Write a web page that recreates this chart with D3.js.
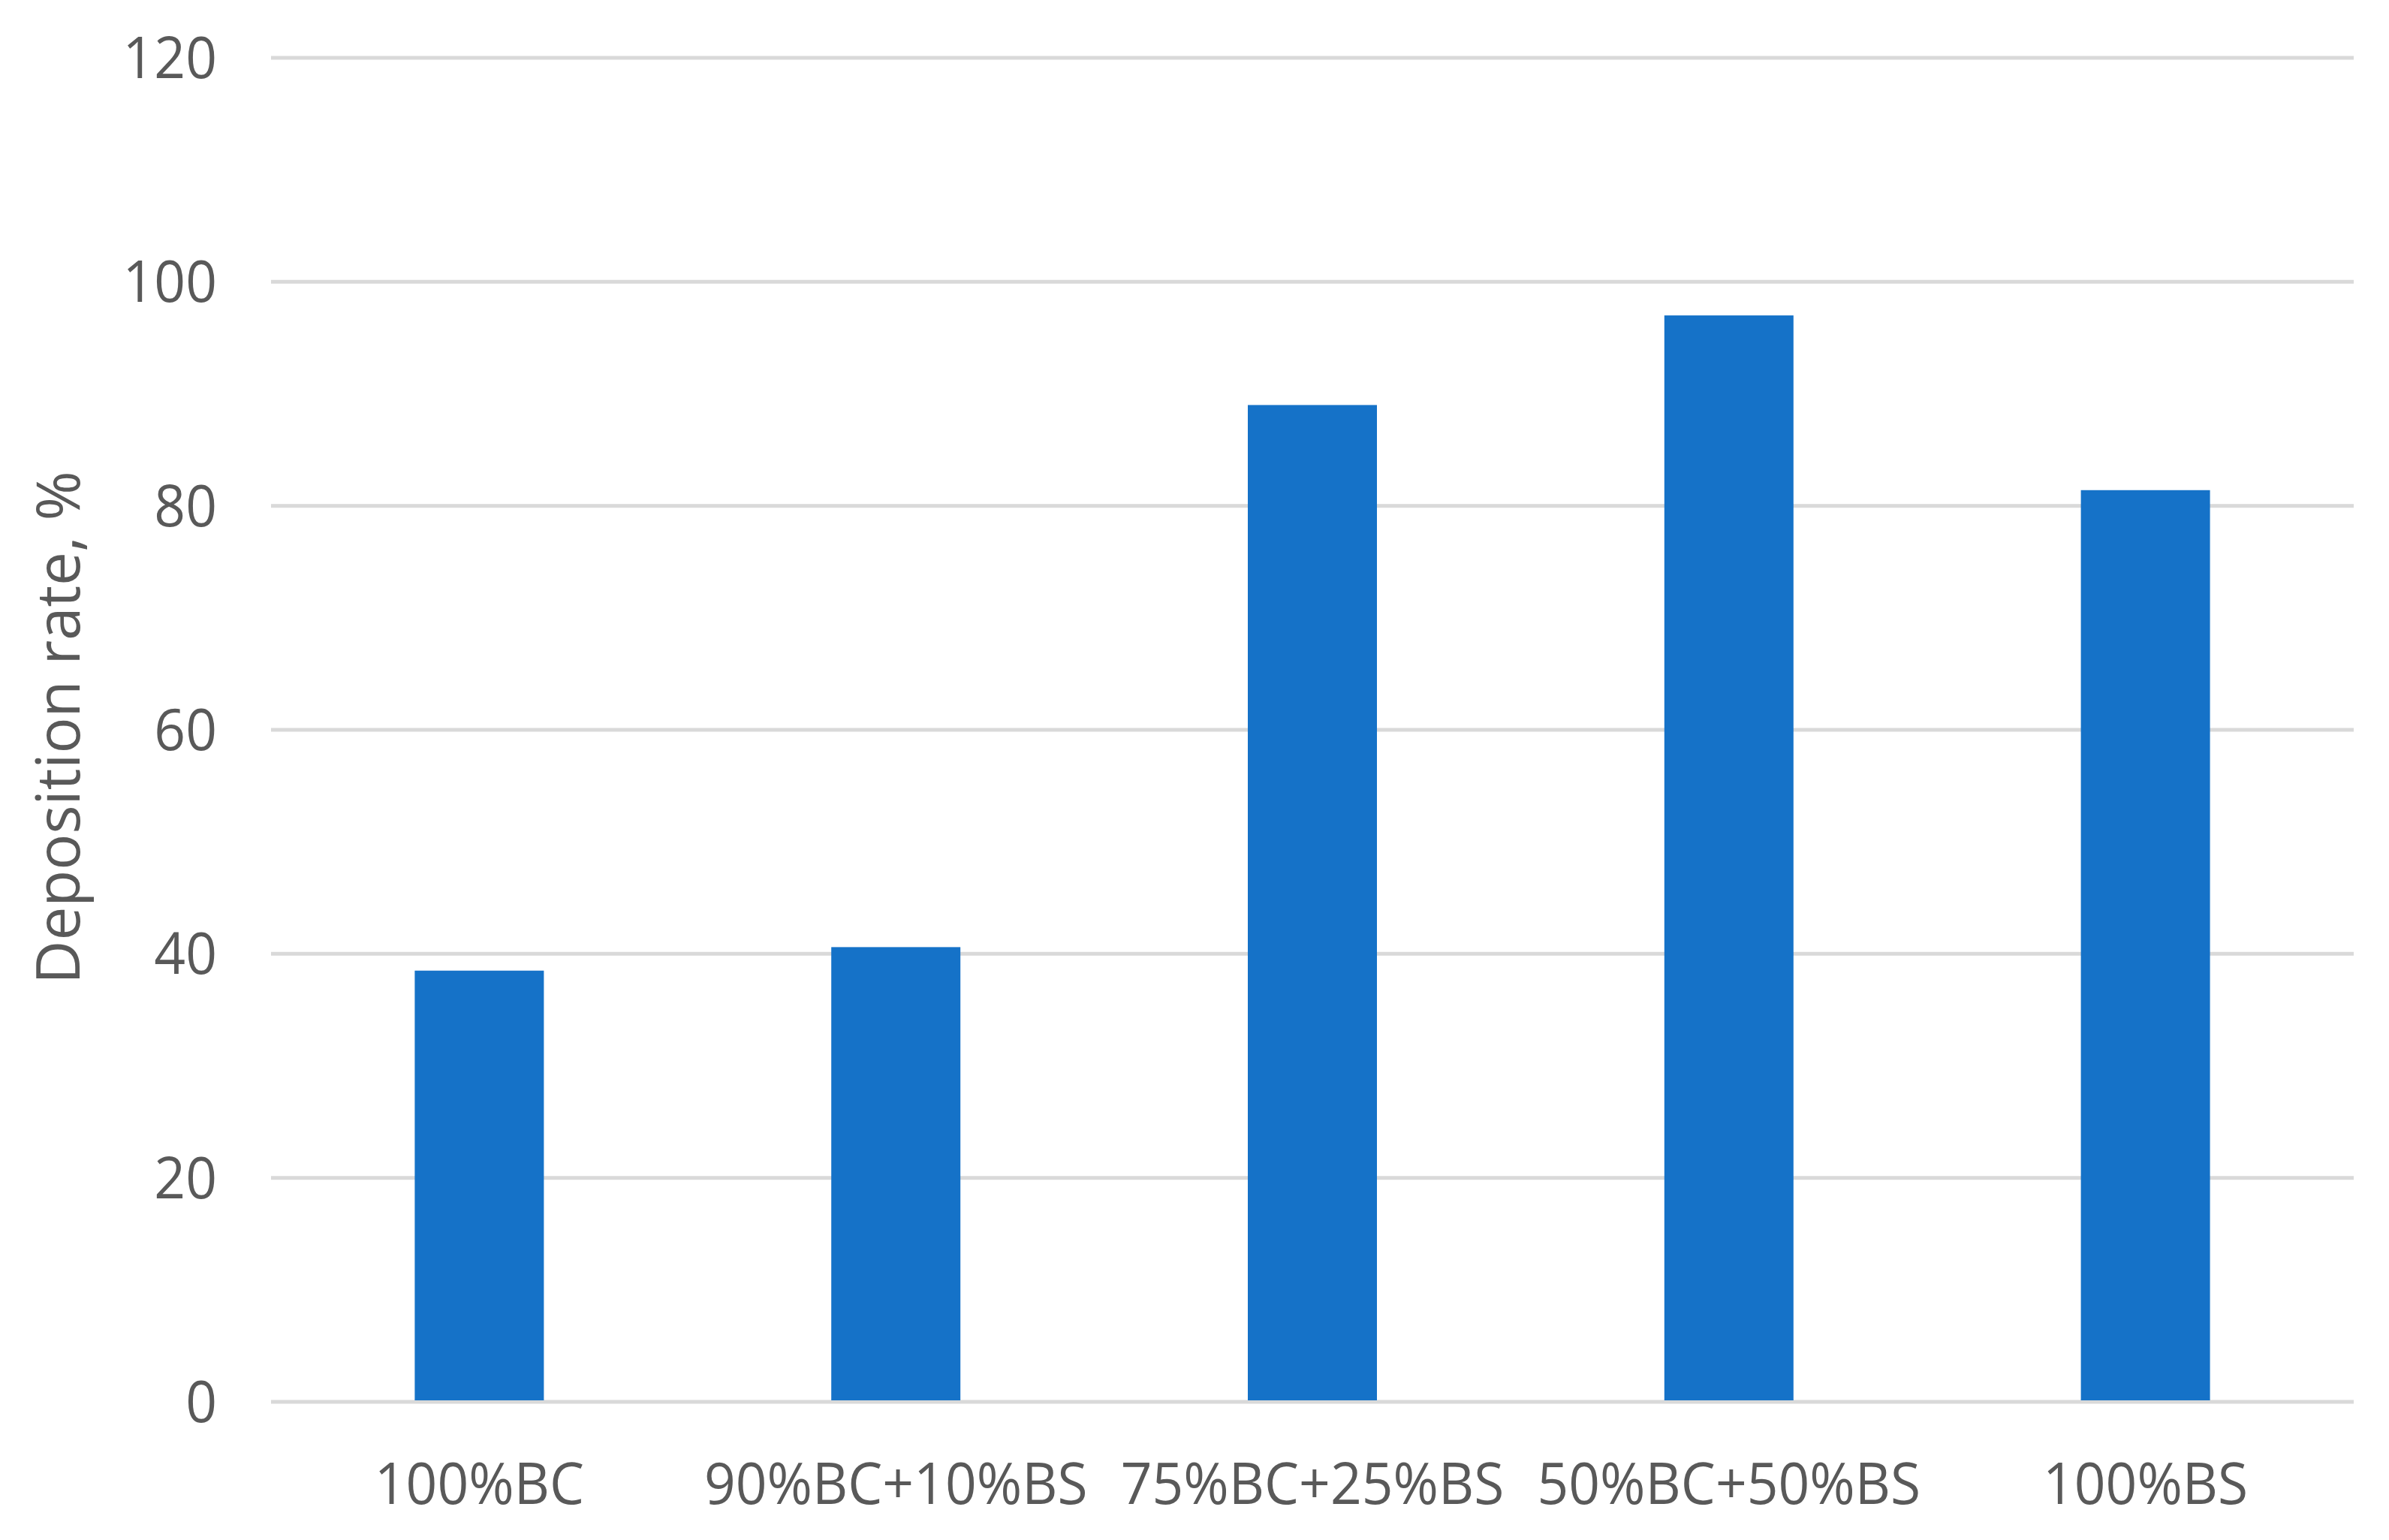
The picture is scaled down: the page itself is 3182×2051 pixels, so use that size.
<!DOCTYPE html>
<html>
<head>
<meta charset="utf-8">
<script src="https://cdn.jsdelivr.net/npm/d3@7"></script>
<style>
  html, body { margin: 0; padding: 0; background: #fff; }
  svg { display: block; }
  text { font-family: "Open Sans", "Noto Sans", sans-serif; fill: #595959; }
</style>
</head>
<body>
<svg id="chart" width="3182" height="2051"></svg>
<script>
const categories = ["100%BC", "90%BC+10%BS", "75%BC+25%BS", "50%BC+50%BS", "100%BS"];
const depositionRate = [38.5, 40.6, 89.0, 97.0, 81.4];
const yTicks = [0, 20, 40, 60, 80, 100, 120];
const yTitle = "Deposition rate, %";

const svg = d3.select("#chart");
const W = 3182, H = 2051;
const margin = { left: 361, right: W - 3135, top: 77, bottom: H - 1867 };

const x = d3.scaleBand()
  .domain(categories)
  .range([margin.left, W - margin.right])
  .paddingInner(0.69)
  .paddingOuter(0.345);

const y = d3.scaleLinear()
  .domain([0, 120])
  .range([H - margin.bottom, margin.top]);

const sx = 0.95; // horizontal condensation of text
const fontSize = 77;

// gridlines
svg.append("g")
  .selectAll("line")
  .data(yTicks)
  .join("line")
  .attr("x1", margin.left)
  .attr("x2", W - margin.right)
  .attr("y1", d => y(d))
  .attr("y2", d => y(d))
  .attr("stroke", "#D9D9D9")
  .attr("stroke-width", 5);

// bars
svg.append("g")
  .selectAll("rect")
  .data(categories.map((c, i) => ({ c, v: depositionRate[i] })))
  .join("rect")
  .attr("x", d => x(d.c))
  .attr("width", x.bandwidth())
  .attr("y", d => y(d.v))
  .attr("height", d => y(0) - y(d.v) - 2)
  .attr("fill", "#1572C8");

// y axis labels
const yAxis = d3.axisLeft(y).tickValues(yTicks).tickSize(0).tickPadding(0);
const gy = svg.append("g").attr("transform", `translate(${289},0)`).call(yAxis);
gy.select(".domain").remove();
gy.selectAll(".tick").attr("transform", null);
gy.selectAll("text")
  .attr("font-size", fontSize)
  .attr("dy", "0.35em")
  .attr("x", 0)
  .attr("y", d => y(d))
  .attr("transform", `scale(${sx},1)`);
gy.attr("fill", null);

// x axis labels
const xAxis = d3.axisBottom(x).tickSize(0).tickPadding(0);
const gx = svg.append("g").attr("transform", `translate(0,${2003})`).call(xAxis);
gx.select(".domain").remove();
gx.selectAll("text")
  .attr("font-size", fontSize)
  .attr("dy", null)
  .attr("y", 0)
  .attr("transform", `scale(${sx},1)`);

// y title
svg.append("text")
  .attr("transform", `translate(${106},${969}) rotate(-90)`)
  .attr("text-anchor", "middle")
  .attr("font-size", 80)
  .text(yTitle);
</script>
</body>
</html>
